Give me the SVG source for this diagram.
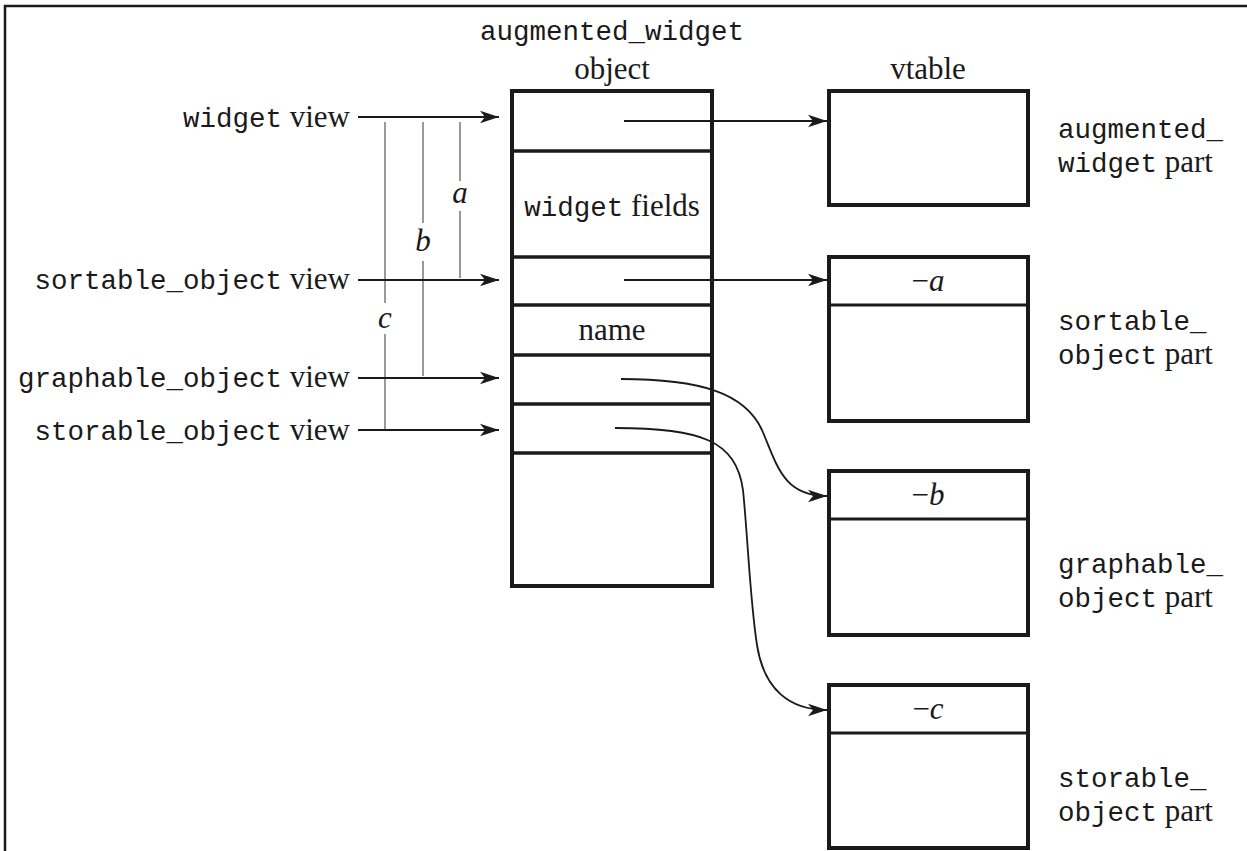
<svg xmlns="http://www.w3.org/2000/svg" width="1247" height="851" viewBox="0 0 1247 851">
  <defs>
    <marker id="head" markerUnits="userSpaceOnUse" markerWidth="20" markerHeight="14" refX="19" refY="7" orient="auto">
      <path d="M0,0.8 L19,7 L0,13.2 L5,7 Z" fill="#1a1a1a"/>
    </marker>
    <style>
      .mono { font-family: "Liberation Mono", "DejaVu Sans Mono", monospace; font-size: 27.5px; fill: #1a1a1a; }
      .serif { font-family: "Liberation Serif", "DejaVu Serif", serif; font-size: 31px; fill: #1a1a1a; }
      .ital { font-family: "Liberation Serif", "DejaVu Serif", serif; font-style: italic; font-size: 31px; fill: #1a1a1a; }
      .box { fill: #fff; stroke: #1a1a1a; stroke-width: 4; }
      .div { stroke: #1a1a1a; stroke-width: 3.5; }
      .vdiv { stroke: #1a1a1a; stroke-width: 3; }
      .view { stroke: #1a1a1a; stroke-width: 2.2; fill: none; marker-end: url(#head); }
      .ptr { stroke: #1a1a1a; stroke-width: 1.8; fill: none; marker-end: url(#head); }
      .dist { stroke: #999; stroke-width: 2; fill: none; }
    </style>
  </defs>

  <rect width="1247" height="851" fill="#fff"/>
  <!-- outer frame, open at the right and bottom -->
  <rect x="5" y="6" width="1300" height="900" fill="none" stroke="#1a1a1a" stroke-width="2.5"/>

  <!-- column headings -->
  <g id="headings">
    <text class="mono" x="612" y="40" text-anchor="middle">augmented_widget</text>
    <text class="serif" x="612" y="79" text-anchor="middle">object</text>
    <text class="serif" x="928" y="79" text-anchor="middle">vtable</text>
  </g>

  <!-- the object layout -->
  <g id="object">
    <rect class="box" x="512" y="91" width="200" height="495"/>
    <line class="div" x1="512" y1="151" x2="712" y2="151"/>
    <line class="div" x1="512" y1="257" x2="712" y2="257"/>
    <line class="div" x1="512" y1="305" x2="712" y2="305"/>
    <line class="div" x1="512" y1="355" x2="712" y2="355"/>
    <line class="div" x1="512" y1="404" x2="712" y2="404"/>
    <line class="div" x1="512" y1="453" x2="712" y2="453"/>
    <text x="612" y="216" text-anchor="middle"><tspan class="mono">widget</tspan><tspan class="serif"> fields</tspan></text>
    <text class="serif" x="612" y="340" text-anchor="middle">name</text>
  </g>

  <!-- vtable parts -->
  <g id="vt-augmented">
    <rect class="box" x="829" y="91" width="199" height="114"/>
    <text x="1058" y="138"><tspan class="mono">augmented_</tspan></text>
    <text x="1058" y="172"><tspan class="mono">widget</tspan><tspan class="serif"> part</tspan></text>
  </g>
  <g id="vt-sortable">
    <rect class="box" x="829" y="257" width="199" height="164"/>
    <line class="vdiv" x1="829" y1="305" x2="1028" y2="305"/>
    <text class="serif" x="928" y="291" text-anchor="middle">−<tspan class="ital">a</tspan></text>
    <text x="1058" y="330"><tspan class="mono">sortable_</tspan></text>
    <text x="1058" y="364"><tspan class="mono">object</tspan><tspan class="serif"> part</tspan></text>
  </g>
  <g id="vt-graphable">
    <rect class="box" x="829" y="471" width="199" height="164"/>
    <line class="vdiv" x1="829" y1="519" x2="1028" y2="519"/>
    <text class="serif" x="928" y="505" text-anchor="middle">−<tspan class="ital">b</tspan></text>
    <text x="1058" y="573"><tspan class="mono">graphable_</tspan></text>
    <text x="1058" y="607"><tspan class="mono">object</tspan><tspan class="serif"> part</tspan></text>
  </g>
  <g id="vt-storable">
    <rect class="box" x="829" y="685" width="199" height="163"/>
    <line class="vdiv" x1="829" y1="733" x2="1028" y2="733"/>
    <text class="serif" x="928" y="719" text-anchor="middle">−<tspan class="ital">c</tspan></text>
    <text x="1058" y="787"><tspan class="mono">storable_</tspan></text>
    <text x="1058" y="821"><tspan class="mono">object</tspan><tspan class="serif"> part</tspan></text>
  </g>

  <!-- view labels -->
  <g id="views">
    <text x="350" y="127" text-anchor="end"><tspan class="mono">widget</tspan><tspan class="serif"> view</tspan></text>
    <text x="350" y="289" text-anchor="end"><tspan class="mono">sortable_object</tspan><tspan class="serif"> view</tspan></text>
    <text x="350" y="387" text-anchor="end"><tspan class="mono">graphable_object</tspan><tspan class="serif"> view</tspan></text>
    <text x="350" y="440" text-anchor="end"><tspan class="mono">storable_object</tspan><tspan class="serif"> view</tspan></text>
  </g>

  <!-- offset measures between views -->
  <g id="offsets">
    <path class="dist" d="M460,122 V181 M460,211 V278"/>
    <path class="dist" d="M423,122 V223 M423,261 V376"/>
    <path class="dist" d="M385,122 V303 M385,334 V430"/>
    <text class="ital" x="460" y="203" text-anchor="middle">a</text>
    <text class="ital" x="423" y="251" text-anchor="middle">b</text>
    <text class="ital" x="385" y="328" text-anchor="middle">c</text>
  </g>

  <g id="connectors">
    <line class="view" x1="358" y1="117" x2="499" y2="117"/>
    <line class="view" x1="358" y1="280" x2="499" y2="280"/>
    <line class="view" x1="358" y1="378" x2="499" y2="378"/>
    <line class="view" x1="358" y1="430" x2="499" y2="430"/>
    <line class="ptr" x1="624" y1="121" x2="827" y2="121"/>
    <line class="ptr" x1="624" y1="280" x2="827" y2="280"/>
    <path class="ptr" d="M621,379 C700,379 745,393 762,430 C777,465 783,496 827,496"/>
    <path class="ptr" d="M615,428 C700,428 736,440 743,490 C748,540 750,600 757,645 C764,690 790,710 827,710"/>
  </g>
</svg>
